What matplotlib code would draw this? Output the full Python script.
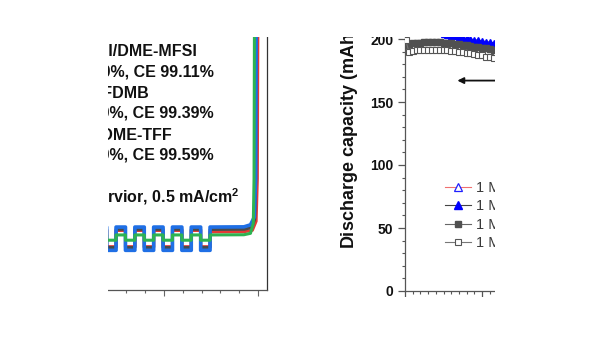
import matplotlib

matplotlib.use("Agg")
import matplotlib.pyplot as plt
from matplotlib.lines import Line2D
from matplotlib.patches import Rectangle
from matplotlib.ticker import MultipleLocator

W_PX, H_PX, DPI = 600, 338, 100

# visible window of the two-panel figure (pixels, origin top-left)
VIEW_LEFT, VIEW_RIGHT, VIEW_TOP, VIEW_BOTTOM = 108, 495, 37, 297

# ---- left panel: Li||Cu plating/stripping, time (h) vs voltage (V) ----
CYCLE_EDGES_H = [12.9, 13.9, 14.9, 15.9, 16.9, 17.9, 18.9, 19.9, 20.9, 21.9, 22.9, 23.9, 24.9]
CELL_COLORS = ["#e53935", "#4a4a4a", "#1f6fe5", "#2eb351"]
STRIP_V = [0.044, 0.050, 0.061, 0.022]
PLATE_V = [-0.036, -0.040, -0.054, -0.004]
FINAL_V = [0.037, 0.049, 0.061, 0.022]
KNEE_T = [
    [28.5, 29.4, 29.8, 29.93, 29.98],
    [28.5, 29.3, 29.65, 29.75, 29.8],
    [28.5, 29.2, 29.6, 29.75, 29.8],
    [28.5, 29.2, 29.5, 29.58, 29.62],
]
KNEE_V = [
    [0.038, 0.045, 0.09, 0.3, 1.0],
    [0.050, 0.058, 0.10, 0.3, 1.0],
    [0.062, 0.072, 0.11, 0.3, 1.0],
    [0.023, 0.030, 0.08, 0.3, 1.0],
]
NOTE_LINES = [
    "1 M LiFSI/DME-MFSI",
    "Li||Cu, 10%, CE 99.11%",
    "1 M LiFSI/FDMB",
    "Li||Cu, 10%, CE 99.39%",
    "1 M LiFSI/DME-TFF",
    "Li||Cu, 10%, CE 99.59%",
    r"5 mAh/cm$^\mathbf{2}$ Li reservior, 0.5 mA/cm$^\mathbf{2}$",
]
# right end / baseline of each note line, pixels
NOTE_X = [197, 214, 149, 214, 172, 214, 240]
NOTE_Y = [56, 77, 98, 118, 140, 160, 202]

# ---- right panel: discharge capacity vs cycle number ----
CYCLES = [1, 5, 10, 15, 20, 25, 30, 35, 40, 45, 50, 55, 60, 65, 70, 75, 80, 85, 90, 95, 100, 105, 110, 115]
CAP_OPEN_TRI = [212, 212, 212.5, 212.5, 213, 213, 213, 212.5, 212.5, 212, 212, 211.5, 211, 211, 210.5,
                210, 210, 209.5, 209, 209, 208.5, 208, 207.5, 207]
CAP_FILLED_TRI = [208, 208, 208, 208, 208, 208, 207.5, 207, 206.5, 205.5, 204, 203, 202.5, 202, 201.5,
                  201, 200.5, 200, 199.5, 199, 198.5, 198, 197.5, 197]
CAP_FILLED_SQ = [195, 196, 196.5, 197, 197, 197.5, 197.5, 197.5, 197.5, 197.5, 197, 197, 196.5, 196, 196,
                 195.5, 195, 194.5, 194, 193.5, 193, 192.5, 192, 191.5]
CAP_OPEN_SQ = [199, 190, 190.5, 191, 191, 191.5, 191.5, 191.5, 191.5, 191.5, 191, 191, 190.5, 190.5, 190,
               189.5, 189, 188.5, 188, 187.5, 187, 186, 185.5, 185]
SERIES_LABELS = ["1 M LiFSI/DME", "1 M LiFSI/DME-MFSI", "1 M LiFSI/FDMB", "1 M LiFSI/DME-TFF"]
ARROW_CAP = 167
ARROW_FROM, ARROW_TO = 135, 68

COLOR_AXIS = "#333333"
COLOR_TEXT = "#111111"


def fx(px):
    return px / W_PX


def fy(py):
    return 1 - py / H_PX


def axes_box(left, top, right, bottom):
    return [fx(left), fy(bottom), (right - left) / W_PX, (bottom - top) / H_PX]


def step_profile(strip, plate, final, knee_t, knee_v):
    t, v = [], []
    for i in range(len(CYCLE_EDGES_H) - 1):
        level = plate if i % 2 else strip
        t += [CYCLE_EDGES_H[i], CYCLE_EDGES_H[i + 1]]
        v += [level, level]
    t += [CYCLE_EDGES_H[-1]] + knee_t
    v += [final] + knee_v
    return t, v


def draw_voltage_panel(fig):
    ax = fig.add_axes(axes_box(VIEW_LEFT, VIEW_TOP, 267, 290))
    # 20 h at x=164 px, 30 h at x=258 px; 0 V at y=239.4 px
    h_per_px = 10 / 94
    ax.set_xlim(20 - (164 - VIEW_LEFT) * h_per_px, 30 + (267 - 258) * h_per_px)
    ax.set_ylim(-0.25, 1.0)

    zorders = [1, 2, 3, 4]
    widths = [2.2, 2.2, 2.6, 2.2]
    for color, s, p, f, kt, kv, z, lw in zip(CELL_COLORS, STRIP_V, PLATE_V, FINAL_V, KNEE_T, KNEE_V,
                                              zorders, widths):
        t, v = step_profile(s, p, f, kt, kv)
        ax.plot(t, v, color=color, linewidth=lw, solid_joinstyle="round", zorder=z)

    for text, x, y in zip(NOTE_LINES, NOTE_X, NOTE_Y):
        ax.text(fx(x), fy(y), text, transform=fig.transFigure, ha="right", va="baseline",
                fontsize=11.5, fontweight="bold", color=COLOR_TEXT, clip_on=True)

    ax.xaxis.set_major_locator(MultipleLocator(10))
    ax.xaxis.set_minor_locator(MultipleLocator(2))
    ax.tick_params(axis="x", which="major", direction="out", length=4.5, width=0.8,
                   color="#666666", labelbottom=False)
    ax.tick_params(axis="x", which="minor", direction="out", length=2.5, width=0.8, color="#666666")
    ax.tick_params(axis="y", which="both", left=False, labelleft=False)
    for side in ("left", "top"):
        ax.spines[side].set_visible(False)
    ax.spines["bottom"].set_color("#555555")
    ax.spines["right"].set_color(COLOR_AXIS)
    for side in ("bottom", "right"):
        ax.spines[side].set_linewidth(0.9)
    ax.patch.set_alpha(0)


def draw_capacity_panel(fig):
    ax = fig.add_axes(axes_box(405, VIEW_TOP, VIEW_RIGHT, 291))
    # 100 cycles span 77 px; 200 mAh/g spans 252 px
    ax.set_xlim(0, (VIEW_RIGHT - 405) * 100 / 77)
    ax.set_ylim(0, (291 - VIEW_TOP) * 200 / 252)

    ax.plot(CYCLES, CAP_OPEN_TRI, color="#f07070", linewidth=0.8, marker="^", markersize=4.5,
            markerfacecolor="white", markeredgecolor="#2020ff", markeredgewidth=0.8, zorder=2)
    ax.plot(CYCLES, CAP_FILLED_TRI, color="#444444", linewidth=0.8, marker="^", markersize=4.5,
            markerfacecolor="#0000ff", markeredgecolor="#0000ff", zorder=3)
    ax.plot(CYCLES, CAP_FILLED_SQ, color="#666666", linewidth=0.8, marker="s", markersize=4.2,
            markerfacecolor="#505050", markeredgecolor="#505050", zorder=4)
    ax.plot(CYCLES, CAP_OPEN_SQ, color="#777777", linewidth=0.8, marker="s", markersize=4.2,
            markerfacecolor="white", markeredgecolor="#555555", markeredgewidth=0.8, zorder=5)

    ax.annotate("", xy=(ARROW_TO, ARROW_CAP), xytext=(ARROW_FROM, ARROW_CAP),
                arrowprops=dict(arrowstyle="-|>", color="#111111", linewidth=1.3,
                                mutation_scale=9, shrinkA=0, shrinkB=0))

    handles = [
        Line2D([], [], color="#f07070", linewidth=0.8, marker="^", markersize=5.5,
               markerfacecolor="white", markeredgecolor="#2020ff", markeredgewidth=0.9),
        Line2D([], [], color="#444444", linewidth=0.8, marker="^", markersize=5.5,
               markerfacecolor="#0000ff", markeredgecolor="#0000ff"),
        Line2D([], [], color="#666666", linewidth=0.8, marker="s", markersize=5,
               markerfacecolor="#505050", markeredgecolor="#505050"),
        Line2D([], [], color="#777777", linewidth=0.8, marker="s", markersize=5,
               markerfacecolor="white", markeredgecolor="#555555", markeredgewidth=0.8),
    ]
    leg = ax.legend(handles, SERIES_LABELS, loc="upper left", bbox_to_anchor=(fx(445), fy(181)),
                    bbox_transform=fig.transFigure, frameon=False, fontsize=10.5,
                    handlelength=1.8, handletextpad=0.3, labelspacing=0.3, borderpad=0,
                    borderaxespad=0)
    for txt in leg.get_texts():
        txt.set_color("#3a3a3a")

    ax.yaxis.set_major_locator(MultipleLocator(50))
    ax.yaxis.set_minor_locator(MultipleLocator(10))
    ax.xaxis.set_major_locator(MultipleLocator(100))
    ax.xaxis.set_minor_locator(MultipleLocator(10))
    ax.tick_params(axis="both", which="major", direction="out", length=5, width=0.9, color="#555555")
    ax.tick_params(axis="both", which="minor", direction="out", length=2.5, width=0.8, color="#555555")
    ax.tick_params(axis="x", labelbottom=False)
    ax.tick_params(axis="y", labelsize=10, pad=3.5, labelcolor=COLOR_TEXT)
    for label in ax.get_yticklabels():
        label.set_fontweight("bold")
    for side in ("top", "right"):
        ax.spines[side].set_visible(False)
    for side in ("left", "bottom"):
        ax.spines[side].set_color("#555555")
        ax.spines[side].set_linewidth(0.9)
    ax.patch.set_alpha(0)

    fig.text(fx(349), fy(249), "Discharge capacity (mAh g$^{-1}$)", rotation=90, ha="center",
             va="bottom", fontsize=13, fontweight="bold", color=COLOR_TEXT)


def main():
    plt.rcParams["font.family"] = ["Liberation Sans", "DejaVu Sans"]
    plt.rcParams["mathtext.fontset"] = "custom"
    plt.rcParams["mathtext.rm"] = "Liberation Sans"
    plt.rcParams["mathtext.bf"] = "Liberation Sans:bold"
    plt.rcParams["mathtext.default"] = "regular"
    fig = plt.figure(figsize=(W_PX / DPI, H_PX / DPI), dpi=DPI)
    fig.patch.set_facecolor("white")

    draw_voltage_panel(fig)
    draw_capacity_panel(fig)

    # blank out everything outside the visible window
    for x0, y0, x1, y1 in [(0, 0, W_PX, VIEW_TOP), (VIEW_RIGHT, 0, W_PX, H_PX),
                           (0, VIEW_BOTTOM, W_PX, H_PX), (0, 0, VIEW_LEFT, H_PX)]:
        fig.patches.append(Rectangle((fx(x0), fy(y1)), (x1 - x0) / W_PX, (y1 - y0) / H_PX,
                                     transform=fig.transFigure, facecolor="white",
                                     edgecolor="none", zorder=100))

    fig.savefig("out.png", dpi=DPI, facecolor="white")
    plt.close(fig)


if __name__ == "__main__":
    main()
